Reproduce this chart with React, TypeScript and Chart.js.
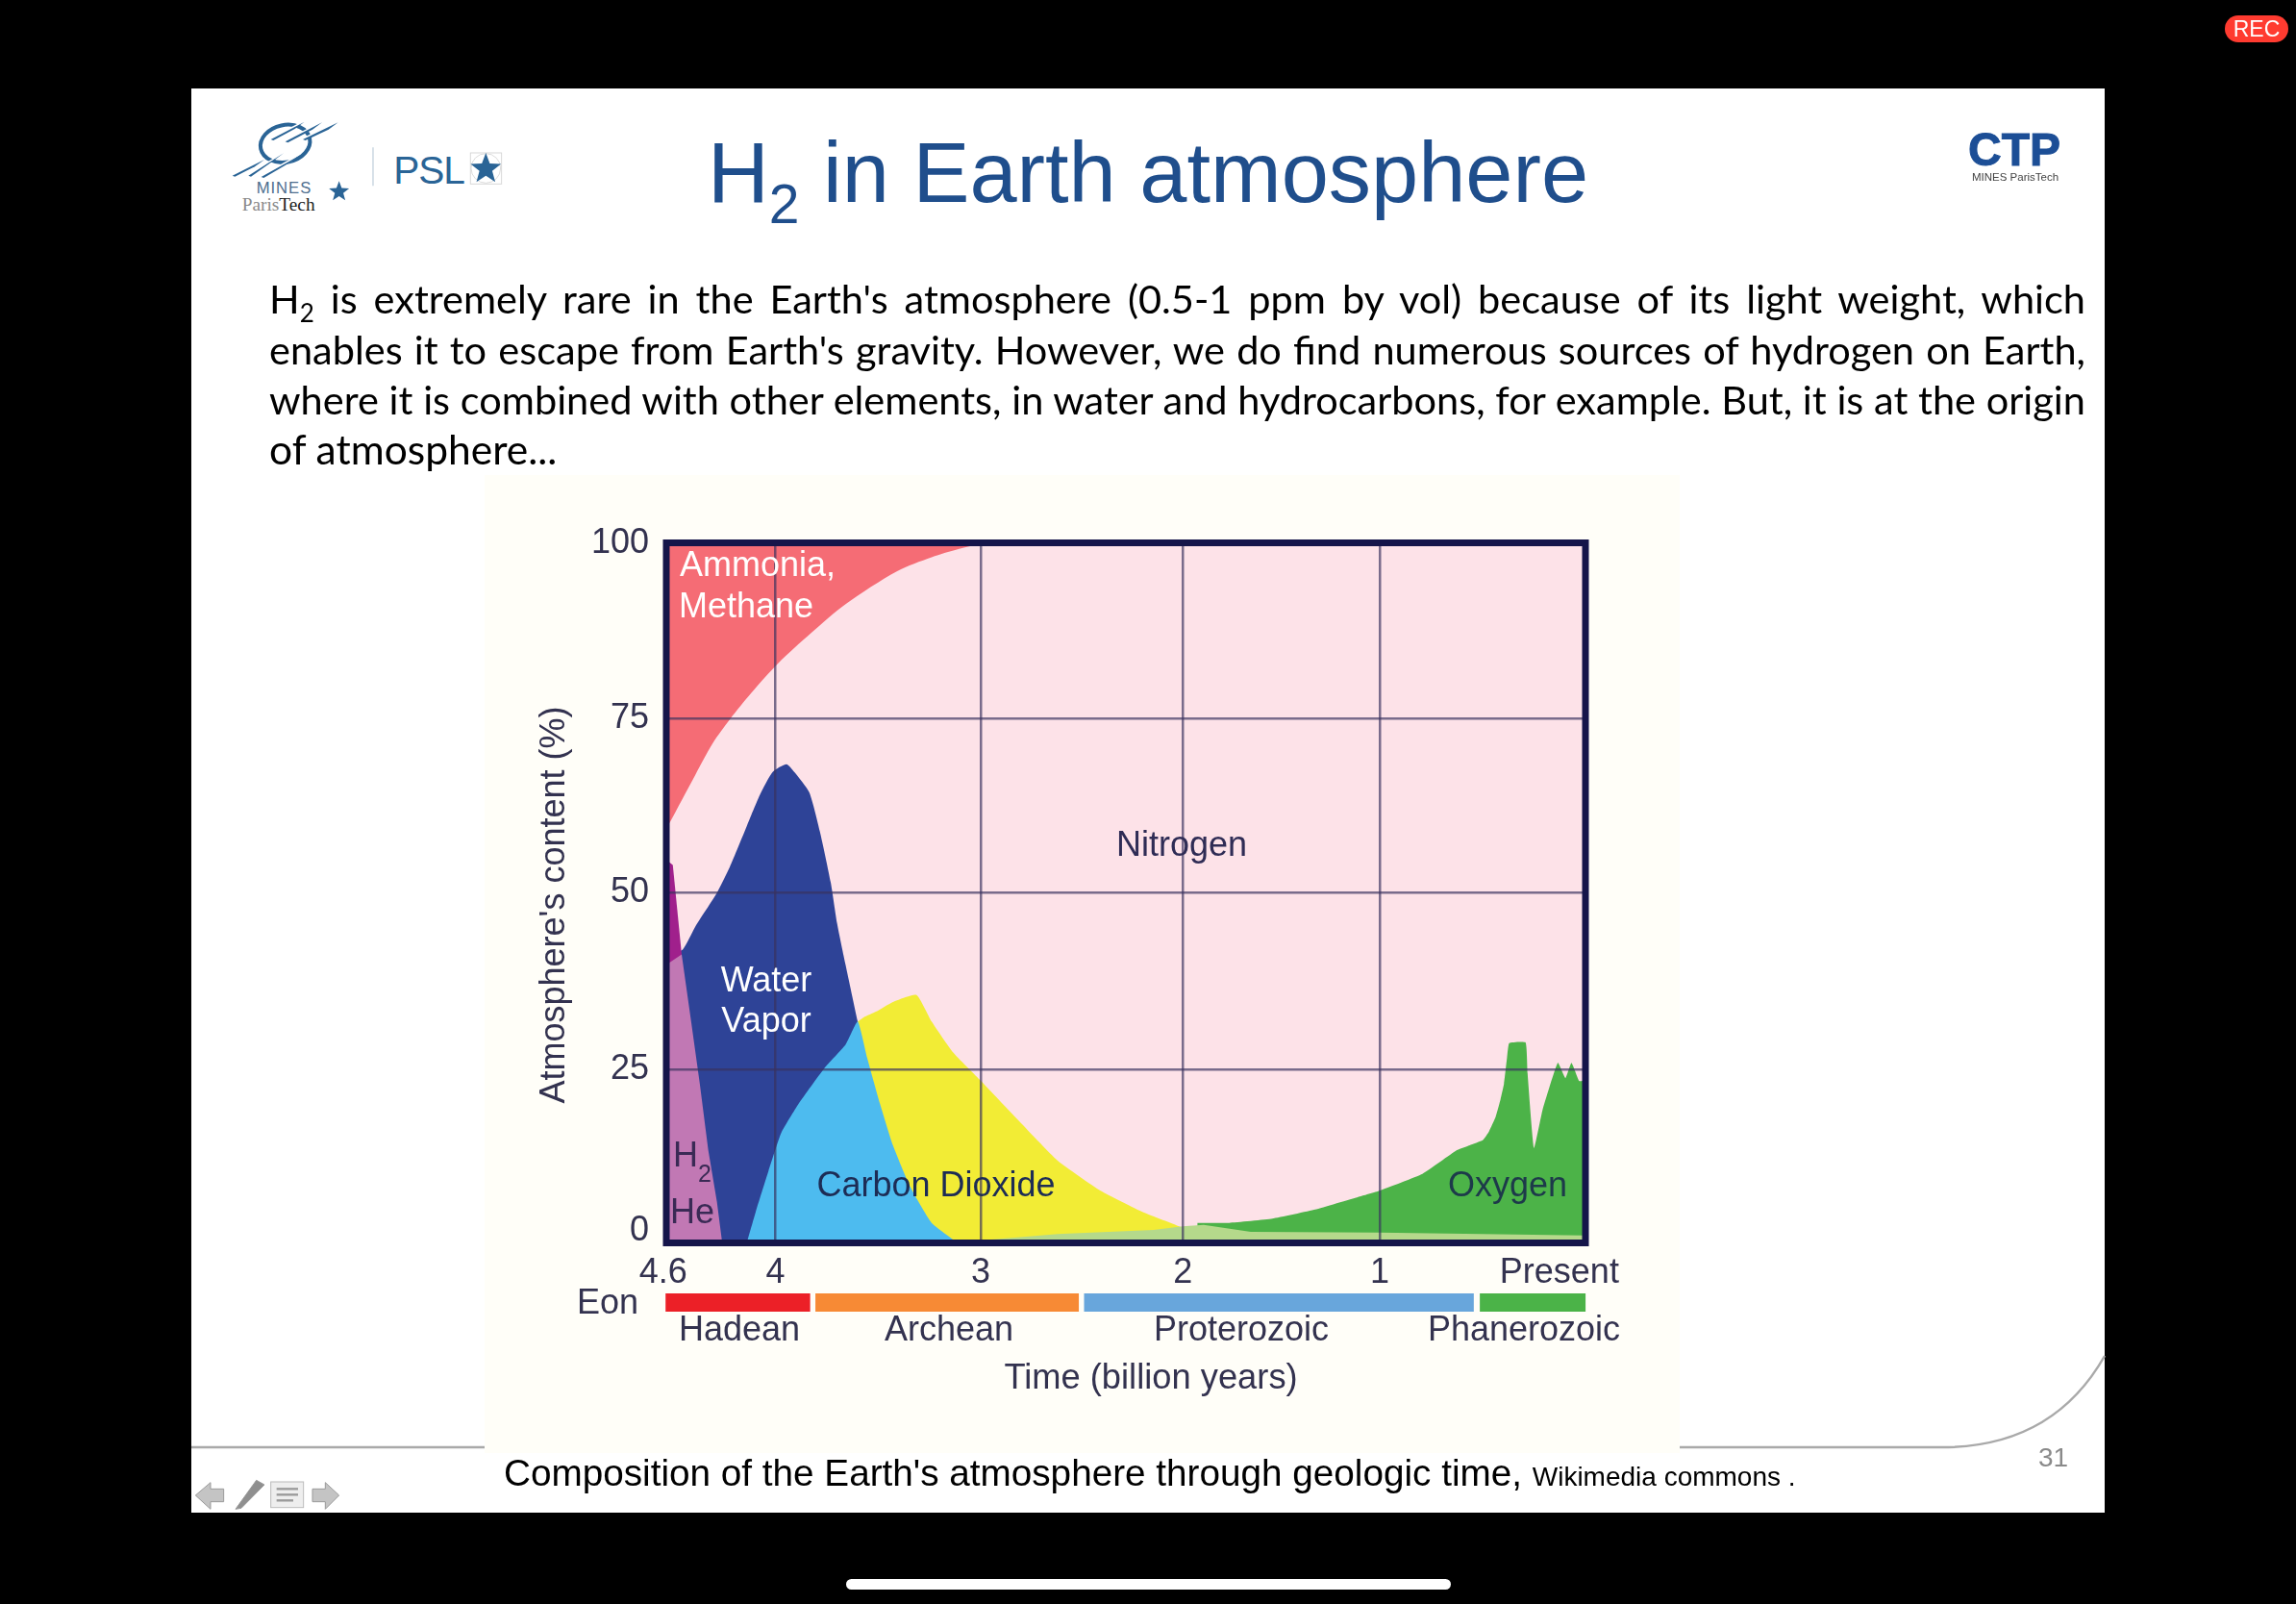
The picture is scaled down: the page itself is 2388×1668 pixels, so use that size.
import React, { useEffect, useRef } from "react";
import { Chart, registerables } from "chart.js";

Chart.register(...registerables);

// ---------- data: [age in billion years, atmosphere content in %] ----------
const nitrogen = [[4.54, 100], [0, 100]];
const ammoniaMethane = [[4.54, 59.9], [4.41, 66.9], [4.324, 71.4], [4.239, 74.8], [4.132, 78.6], [4.0, 82.8], [3.834, 87.2], [3.664, 91.3], [3.408, 96.0], [3.237, 98.0], [3.1, 99.2], [2.98, 100]];
const waterVapor = [[4.54, 41.2], [4.473, 41.9], [4.41, 45.2], [4.303, 50.0], [4.239, 53.7], [4.154, 59.6], [4.09, 64.0], [4.026, 67.3], [3.958, 68.4], [3.919, 67.3], [3.845, 64.4], [3.792, 58.8], [3.738, 51.5], [3.706, 45.6], [3.664, 39.7], [3.604, 31.6]];
const hydrogen = [[4.54, 54.4], [4.522, 54.0], [4.478, 41.2]];
const helium = [[4.54, 40.0], [4.478, 41.2], [4.431, 31.6], [4.388, 22.7], [4.346, 13.2], [4.303, 5.8], [4.277, 0]];
const carbonDioxide = [[4.154, 0], [4.111, 4.3], [4.047, 10.2], [3.983, 15.7], [3.898, 19.8], [3.77, 24.9], [3.664, 28.3], [3.604, 31.6], [3.557, 26.4], [3.493, 19.8], [3.429, 13.9], [3.344, 8.0], [3.237, 2.8], [3.11, 0]];
const yellowBand = [[3.604, 31.6], [3.574, 32.2], [3.514, 33.0], [3.429, 34.4], [3.312, 35.4], [3.237, 31.6], [3.131, 27.2], [2.992, 23.1], [2.811, 17.6], [2.611, 11.7], [2.398, 7.4], [2.185, 4.3], [1.993, 2.1], [1.9, 0]];
const oxygen = [[1.918, 2.8], [1.759, 2.8], [1.545, 3.4], [1.332, 4.7], [1.119, 6.5], [1.013, 7.4], [0.8, 9.8], [0.629, 13.2], [0.565, 13.9], [0.501, 14.6], [0.469, 15.9], [0.437, 17.9], [0.412, 20.5], [0.395, 22.7], [0.38, 26.4], [0.369, 28.5], [0.288, 28.6], [0.278, 24.2], [0.246, 13.5], [0.203, 19.0], [0.128, 25.7], [0.09, 23.5], [0.06, 25.7], [0.022, 23.1], [0, 23.1]];
const paleBand = [[3.11, 0], [2.611, 1.2], [2.134, 1.8], [1.991, 2.3], [1.886, 2.5], [1.652, 1.5], [1.013, 1.4], [0, 1.0]];

const eonNames = ["Hadean", "Archean", "Proterozoic", "Phanerozoic"];
const eonStart = [4.558, 3.814, 2.48, 0.515];
const eonEnd = [3.84, 2.506, 0.545, -0.01];
const eonRow = -8.6;

const xTickValues = [4.57, 4.012, 2.993, 1.99, 1.012, 0.12];
const xTickLabels = ["4.6", "4", "3", "2", "1", "Present"];
const xGridValues = [4.012, 2.993, 1.99, 1.012];
const yTickValues = [1.6, 24.7, 50, 75, 100];
const yTickLabels = ["0", "25", "50", "75", "100"];
const yGridValues = [24.7, 50, 75];

const bodyLines = [
  " is extremely rare in the Earth's atmosphere (0.5-1 ppm by vol) because of its light weight, which",
  "enables it to escape from Earth's gravity. However, we do find numerous sources of hydrogen on Earth,",
  "where it is combined with other elements, in water and hydrocarbons, for example. But, it is at the origin",
  "of atmosphere...",
];

// ---------- colours ----------
const INK = "#33324f";
const FONT = "'Liberation Sans', Arial, sans-serif";

// text placed on the chart: [text, x, y, colour, size, align, rotate]
const chartTexts: [string, number, number, string, number, CanvasTextAlign, boolean?][] = [
  ["Ammonia,", 707, 589, "#ffffff", 36, "left"],
  ["Methane", 706, 632, "#ffffff", 36, "left"],
  ["Nitrogen", 1229, 880.5, "#2f2c55", 36, "center"],
  ["Water", 797, 1021, "#ffffff", 36, "center"],
  ["Vapor", 797, 1063.5, "#ffffff", 36, "center"],
  ["Carbon Dioxide", 973.5, 1234.5, "#1d2c55", 36, "center"],
  ["Oxygen", 1568, 1234.5, "#1d3a4a", 36, "center"],
  ["H", 700, 1203, "#3a2a55", 36, "left"],
  ["2", 726, 1222, "#3a2a55", 25, "left"],
  ["He", 697, 1262, "#3a2a55", 36, "left"],
  ["Eon", 632, 1356.5, INK, 36, "center"],
  [eonNames[0], 769, 1384.5, INK, 36, "center"],
  [eonNames[1], 987, 1384.5, INK, 36, "center"],
  [eonNames[2], 1291, 1384.5, INK, 36, "center"],
  [eonNames[3], 1585, 1384.5, INK, 36, "center"],
  ["Time (billion years)", 1197, 1433.5, INK, 36.3, "center"],
  ["Atmosphere's content (%)", 577, 941, INK, 36, "center", true],
];

const toPoints = (rows: number[][]) => rows.map(([x, y]) => ({ x, y }));

const area = (label: string, rows: number[][], color: string, fill: string, order: number, tension = 0) => ({
  label,
  data: toPoints(rows),
  backgroundColor: color,
  borderWidth: 0,
  pointRadius: 0,
  tension,
  fill,
  order,
});

const eonColors = ["#ec2027", "#f78a35", "#68a6dc", "#4bb348"];

const annotationPlugin = {
  id: "slideAnnotations",
  afterDraw(chart: any) {
    const { ctx, chartArea: a } = chart;
    ctx.save();
    ctx.strokeStyle = "#15154a";
    ctx.lineWidth = 7;
    ctx.strokeRect(a.left - 3, a.top - 0.5, a.right - a.left + 5, a.bottom - a.top + 1);
    ctx.textBaseline = "middle";
    for (const [text, x, y, color, size, align, rot] of chartTexts) {
      ctx.save();
      ctx.font = `${size}px ${FONT}`;
      ctx.fillStyle = color;
      ctx.textAlign = align;
      ctx.translate(x, y);
      if (rot) ctx.rotate(-Math.PI / 2);
      ctx.fillText(text, 0, 0);
      ctx.restore();
    }
    ctx.restore();
  },
};

function Logos() {
  const blue = "#2a6496";
  const stripes = [
    [185, 105, 290, 50], [230, 112, 345, 52], [285, 105, 395, 52],
    [65, 218, 165, 168], [115, 218, 225, 148], [155, 222, 280, 152],
  ];
  const star = (cx: number, cy: number, r: number) => {
    const p: string[] = [];
    for (let i = 0; i < 10; i++) {
      const rr = i % 2 ? r * 0.42 : r;
      const t = -Math.PI / 2 + (i * Math.PI) / 5;
      p.push(`${cx + rr * Math.cos(t)},${cy + rr * Math.sin(t)}`);
    }
    return p.join(" ");
  };
  return (
    <svg width={2388} height={1668} style={{ position: "absolute", left: 0, top: 0 }}>
      {/* footer rule */}
      <path d="M199 1505 H2020 Q2135 1505 2189 1410" fill="none" stroke="#a9a9a9" strokeWidth={2.5} />
      {/* school logo */}
      <g transform="translate(220,110) scale(0.3333)">
        <ellipse cx={230} cy={118} rx={78} ry={58} fill="none" stroke={blue} strokeWidth={12} transform="rotate(-12 230 118)" />
        {stripes.map(([a, b, c, d], i) => (
          <g key={i}>
            <polygon points={`${a},${b} ${c},${d} ${c - 30},${d + 26} ${a + 8},${b + 6}`} fill="#fff" transform="translate(0,-5)" />
            <polygon points={`${a},${b} ${c},${d} ${c - 30},${d + 22} ${a + 8},${b + 3}`} fill={blue} />
          </g>
        ))}
        <text x={140} y={272} fontFamily={FONT} fontSize={50} fill="#4f6f8f" textLength={170}>MINES</text>
        <text x={95} y={328} fontFamily="'Liberation Serif', serif" fontSize={58} fill="#8a8a8a">Paris<tspan fill="#222">Tech</tspan></text>
        <polygon points={star(398, 268, 33)} fill={blue} />
        <line x1={504} y1={130} x2={504} y2={250} stroke="#c4d2de" strokeWidth={4} />
        <text x={568} y={242} fontFamily={FONT} fontSize={122} fill={blue} textLength={224}>PSL</text>
        <rect x={808} y={147} width={97} height={97} fill="none" stroke="#d8d8d8" strokeWidth={3} />
        <circle cx={856} cy={195} r={46} fill="none" stroke="#dcdcdc" strokeWidth={3} />
        <polygon points={star(856, 197, 50)} fill={blue} />
      </g>
      {/* navigation icons */}
      <g transform="translate(195,1520) scale(0.3333)" stroke="#9a9a9a" strokeWidth={3}>
        <polygon points="25,105 72,65 72,85 113,85 113,125 72,125 72,148" fill="#c4c4c4" />
        <polygon points="390,85 430,85 430,65 473,105 430,148 430,125 390,125" fill="#c4c4c4" />
        <polygon points="150,148 215,58 240,72 168,145" fill="#8f8f8f" />
        <rect x={260} y={63} width={102} height={80} fill="#eeeeee" stroke="#bbbbbb" />
        <line x1={278} y1={85} x2={345} y2={85} strokeWidth={7} />
        <line x1={278} y1={103} x2={345} y2={103} strokeWidth={7} />
        <line x1={278} y1={121} x2={330} y2={121} strokeWidth={7} />
      </g>
    </svg>
  );
}

export default function App() {
  const ref = useRef<HTMLCanvasElement>(null);

  useEffect(() => {
    document.body.style.margin = "0";
    document.body.style.background = "#000";
    const chart = new Chart(ref.current!, {
      type: "line",
      data: {
        datasets: [
          area("Nitrogen", nitrogen, "#fde2e8", "origin", 0),
          area("Ammonia, Methane", ammoniaMethane, "#f56c75", "end", -1, 0.3),
          area("Water Vapor", waterVapor, "#2e4397", "origin", -2, 0.2),
          area("H2", hydrogen, "#a0208c", "origin", -3),
          area("He", helium, "#c178b4", "origin", -4),
          area("Yellow", yellowBand, "#f2ec35", "origin", -5, 0.15),
          area("Carbon Dioxide", carbonDioxide, "#4dbbef", "origin", -6, 0.15),
          area("Oxygen", oxygen, "#4cb348", "origin", -7, 0.12),
          area("Pale", paleBand, "#b5d98b", "origin", -8),
          ...eonNames.map((name, i) => ({
            label: name,
            data: toPoints([[eonStart[i], eonRow], [eonEnd[i], eonRow]]),
            borderColor: eonColors[i],
            borderWidth: 19,
            borderCapStyle: "butt" as const,
            pointRadius: 0,
            fill: false,
            clip: false as any,
            order: -9 - i,
          })),
        ],
      },
      options: {
        responsive: false,
        devicePixelRatio: 1,
        animation: false,
        layout: { padding: { top: 565, right: 741, left: 0, bottom: 0 } },
        plugins: { legend: { display: false }, tooltip: { enabled: false }, title: { display: false } },
        scales: {
          x: {
            type: "linear",
            reverse: true,
            min: 0,
            max: 4.54,
            afterBuildTicks: (axis: any) => {
              axis.ticks = xTickValues.map((value) => ({ value }));
            },
            afterFit: (axis: any) => {
              axis.height = 376;
            },
            border: { display: false },
            grid: {
              z: 1,
              drawTicks: false,
              lineWidth: 2.5,
              color: (c: any) => (xGridValues.includes(c.tick?.value) ? "rgba(58,50,95,0.68)" : "transparent"),
            },
            ticks: {
              autoSkip: false,
              maxRotation: 0,
              minRotation: 0,
              padding: 10.5,
              color: INK,
              font: { family: FONT, size: 36 },
              callback: (v: any) => xTickLabels[xTickValues.indexOf(v)] ?? "",
            },
          },
          y: {
            type: "linear",
            min: 0,
            max: 100,
            afterBuildTicks: (axis: any) => {
              axis.ticks = yTickValues.map((value) => ({ value }));
            },
            afterFit: (axis: any) => {
              axis.width = 696;
            },
            border: { display: false },
            grid: {
              z: 1,
              drawTicks: false,
              lineWidth: 2.5,
              color: (c: any) => (yGridValues.includes(c.tick?.value) ? "rgba(58,50,95,0.68)" : "transparent"),
            },
            ticks: {
              autoSkip: false,
              padding: 21,
              color: INK,
              font: { family: FONT, size: 36 },
              callback: (v: any) => yTickLabels[yTickValues.indexOf(v)] ?? "",
            },
          },
        },
      },
      plugins: [annotationPlugin],
    } as any);
    return () => chart.destroy();
  }, []);

  const abs = (s: React.CSSProperties): React.CSSProperties => ({ position: "absolute", whiteSpace: "nowrap", ...s });
  const bodyTop = [283.5, 336.5, 388.5, 440.5];

  return (
    <div style={abs({ left: 0, top: 0, width: 2388, height: 1668, background: "#000", overflow: "hidden" })}>
      <div style={abs({ left: 199, top: 92, width: 1990, height: 1481, background: "#fff" })} />
      <Logos />
      <div style={abs({ left: 504, top: 494, width: 1243, height: 1017, background: "#fffef8" })} />
      <canvas ref={ref} width={2388} height={1668} style={abs({ left: 0, top: 0, width: 2388, height: 1668, display: "block" })} />

      <div style={abs({ left: 736, top: 130, fontFamily: FONT, fontSize: 88.4, lineHeight: "100px", color: "#1f4e8c" })}>
        H<span style={{ fontSize: 57, position: "relative", top: 22, lineHeight: 0 }}>2</span> in Earth atmosphere
      </div>

      {bodyLines.map((line, i) => (
        <div
          key={i}
          style={{
            position: "absolute",
            left: 280,
            top: bodyTop[i],
            width: i < 3 ? 1889 : undefined,
            whiteSpace: "nowrap",
            fontFamily: "Lato, sans-serif",
            fontSize: i < 3 ? 41.5 : 42.5,
            lineHeight: "52px",
            color: "#000",
            textAlign: i < 3 ? "justify" : "left",
            textAlignLast: i < 3 ? "justify" : "left",
          }}
        >
          {i === 0 && (
            <>
              H<span style={{ fontSize: 26, position: "relative", top: 9, lineHeight: 0 }}>2</span>
            </>
          )}
          {line}
        </div>
      ))}

      <div style={abs({ left: 524, top: 1509, fontFamily: FONT, fontSize: 38.7, lineHeight: "46px", color: "#000" })}>
        Composition of the Earth's atmosphere through geologic time,{" "}
        <span style={{ fontSize: 28 }}>Wikimedia commons .</span>
      </div>
      <div style={abs({ left: 2120, top: 1499, fontFamily: FONT, fontSize: 28, lineHeight: "34px", color: "#8a8a8a" })}>31</div>

      <div style={abs({ left: 2047, top: 130, fontFamily: FONT, fontWeight: 700, fontSize: 48, lineHeight: "52px", color: "#1c4e96", WebkitTextStroke: "1px #1c4e96" })}>CTP</div>
      <div style={abs({ left: 2051, top: 176, fontFamily: FONT, fontSize: 11.5, lineHeight: "16px", color: "#444" })}>MINES ParisTech</div>

      <div style={abs({ left: 2314, top: 16, width: 66, height: 28, borderRadius: 14, background: "#ff3b30", color: "#fff", fontFamily: FONT, fontSize: 23, lineHeight: "28px", textAlign: "center" })}>REC</div>
      <div style={abs({ left: 880, top: 1642, width: 629, height: 11, borderRadius: 6, background: "#fff" })} />
    </div>
  );
}
